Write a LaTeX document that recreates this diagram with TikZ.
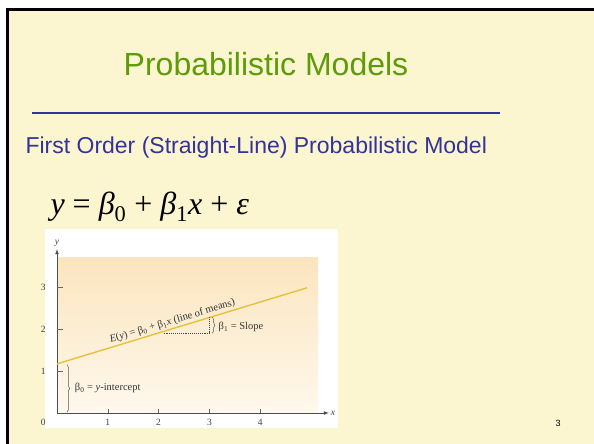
\documentclass[tikz,border=0pt]{standalone}
\usepackage{amsmath}
\usepackage{fontspec}
\setmainfont{Liberation Sans}
\newfontfamily\figfont{Liberation Serif}
\usetikzlibrary{positioning, decorations.pathreplacing}
\definecolor{slidebg}{HTML}{FBF5D0}
\definecolor{titlegreen}{HTML}{5E9B0A}
\definecolor{ruleblue}{HTML}{333399}
\definecolor{meangold}{HTML}{E6C23A}
\newcommand{\sub}[1]{\textsubscript{\upshape #1}}
\tikzset{
  tick/.style={draw=black!60, line width=0.6pt},
  ticklabel/.style={font=\figfont\fontsize{9.5}{10}\selectfont, text=black!75, inner sep=1pt},
  figtext/.style={font=\figfont\fontsize{10.5}{12}\selectfont, text=black!80, inner sep=1pt},
  bracebar/.style={draw=black!65, line width=0.5pt, decorate, decoration={brace, amplitude=2.5pt}},
}

\begin{document}
\begin{tikzpicture}[x=1pt, y=-1pt]
  \useasboundingbox (0,0) rectangle (594,444);
  \fill[white] (0,0) rectangle (594,444);
  \fill[slidebg] (8,10) rectangle (594,444);
  \draw[line width=3pt] (7.5,448) -- (7.5,9.5) -- (598,9.5);

  % heading and rule
  \node (title) at (266,64) {\fontsize{32}{36}\selectfont\color{titlegreen}Probabilistic Models};
  \draw[ruleblue, line width=2.6pt] (32,113) coordinate (ruleL) -- (500,113) coordinate (ruleR);
  \node[anchor=west] (subtitle) at (22,148) {\fontsize{23}{26}\selectfont\color{ruleblue}First Order (Straight-Line) Probabilistic Model};
  \node[anchor=west] (model) at (47,207)
    {\figfont\fontsize{32}{36}\selectfont\itshape y \upshape= \itshape β\sub{0} \upshape+ \itshape β\sub{1}x \upshape+ \itshape ε};

  % the picture of the line of means
  \fill[white] (45,229) rectangle (338,428);
  \shade[top color={rgb,255:red,251;green,229;blue,190}, bottom color={rgb,255:red,254;green,248;blue,236}]
    (57,257) rectangle (318,412);
  \begin{scope}[shift={(57,413)}, x=50.8pt, y=42pt]
    \draw[black!70, line width=0.7pt, -latex] (0,0) coordinate (O) -- (5.35,0) coordinate (xend);
    \draw[black!70, line width=0.7pt, -latex] (O) -- (0,3.9) coordinate (yend);
    \node[ticklabel, right=1pt of xend] (xlab) {\itshape x};
    \node[ticklabel, above=1pt of yend] (ylab) {\itshape y};
    \node[ticklabel] (zero) at (-0.27,-0.22) {0};
    \foreach \i in {1,...,4} {
      \draw[tick] (\i,0) -- (\i,0.1);
      \node[ticklabel] (xt\i) at (\i,-0.22) {\i};
    }
    \foreach \j in {1,2,3} {
      \draw[tick] (0,\j) -- (0.12,\j);
      \node[ticklabel] (yt\j) at (-0.27,\j) {\j};
    }
    \draw[meangold, line width=1.4pt] (0,1.17) coordinate (lstart) -- (4.92,2.98) coordinate (lend)
      node[figtext, pos=0.47, above=0.5pt, sloped] (meanlab)
        {\textit{E}(\textit{y}) = β\sub{0} + β\sub{1}\textit{x} (line of means)};
    \coordinate (runL) at (2.1,1.9);
    \coordinate (runR) at (3,1.9);
    \coordinate (rise) at (3,2.28);
    \draw[black!70, line width=0.9pt, densely dotted] (runL) -- (runR) -- (rise);
    \draw[bracebar] ([xshift=3pt]rise) -- ([xshift=3pt]runR);
    \node[figtext, anchor=west] (slopelab) at (3.16,2.04) {β\sub{1} = Slope};
    \draw[bracebar] (0.2,1.15) -- (0.2,0.02);
    \node[figtext, anchor=west] (icptlab) at (0.33,0.6) {β\sub{0} = \textit{y}-intercept};
  \end{scope}

  \node (pagenum) at (558,423) {\fontsize{9}{10}\selectfont 3};
\end{tikzpicture}
\end{document}
